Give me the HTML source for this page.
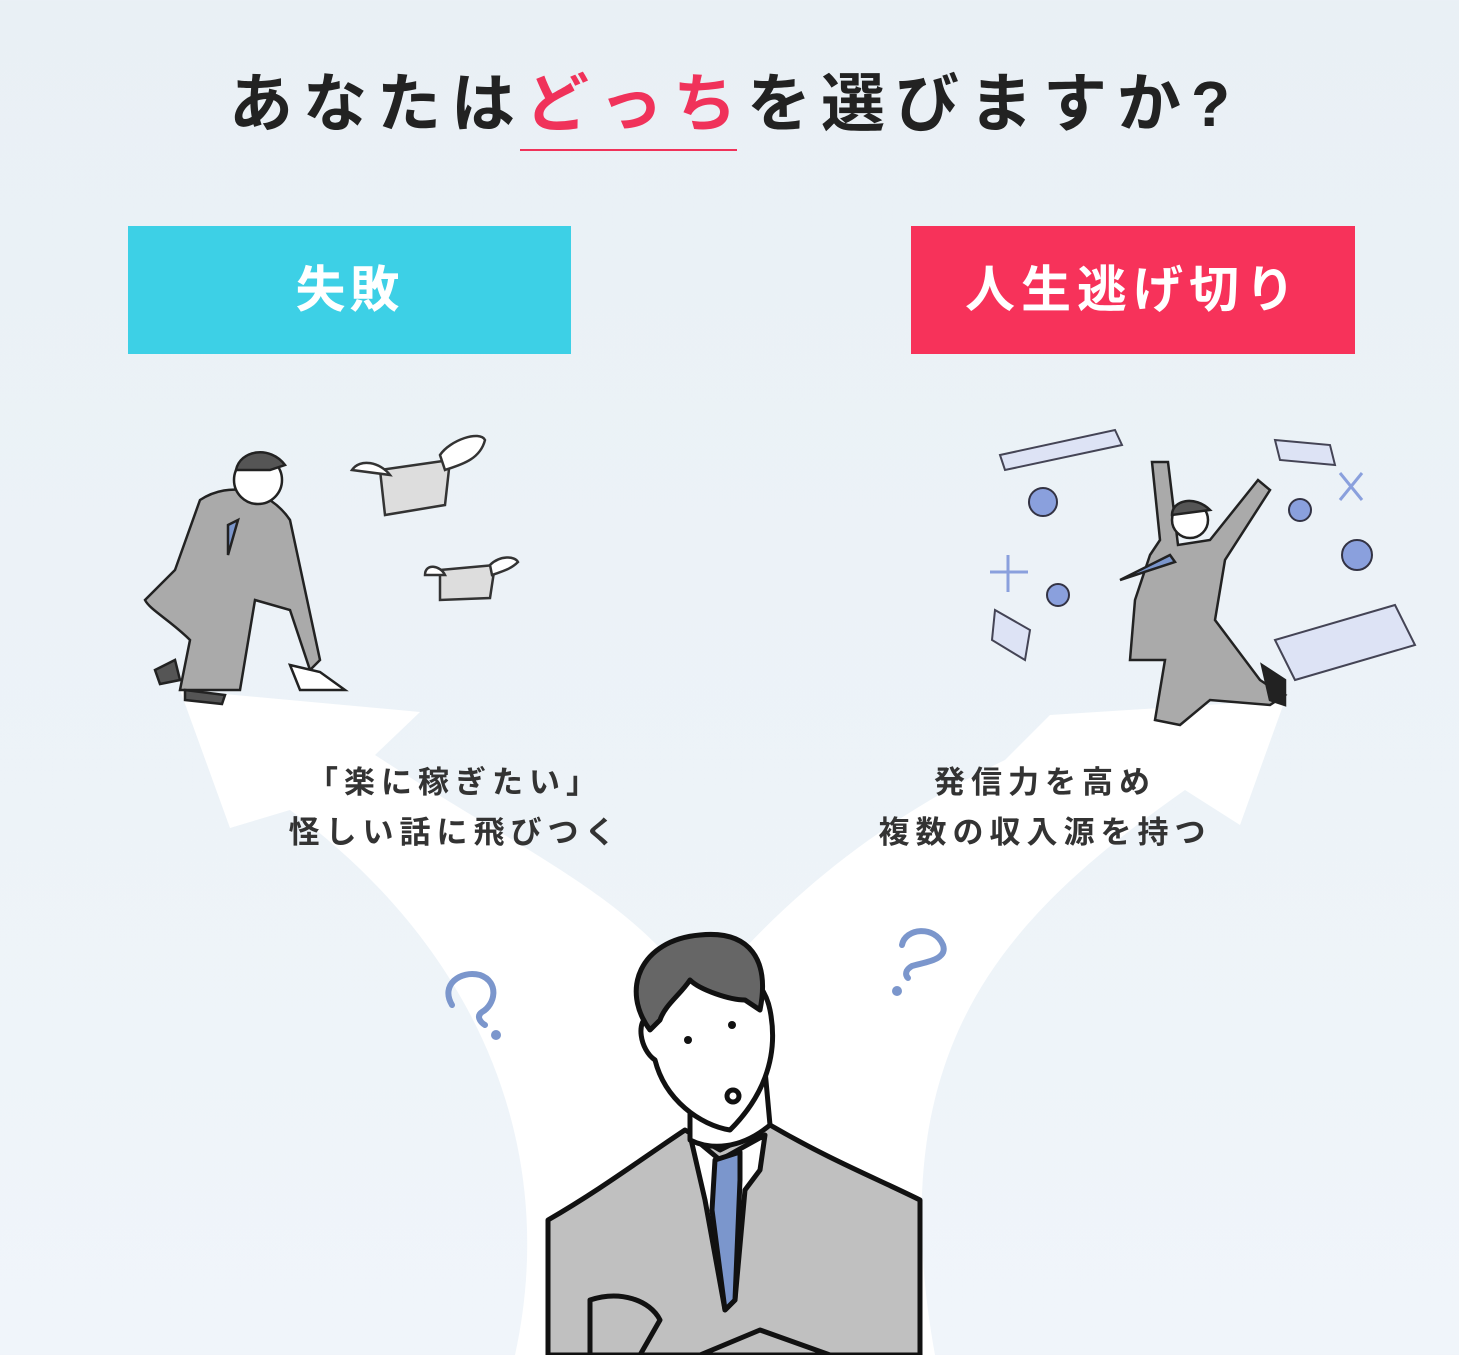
<!DOCTYPE html>
<html><head><meta charset="utf-8"><style>
html,body{margin:0;padding:0}
body{width:1459px;height:1355px;position:relative;overflow:hidden;background:linear-gradient(#e9f0f5,#edf3f8 60%,#f0f5fa);font-family:"Liberation Sans","Noto Sans CJK JP",sans-serif;}
.t{position:absolute;white-space:nowrap}
</style></head><body>
<svg width="1459" height="1355" style="position:absolute;left:0;top:0">
<path d="M180,690 L420,712 L375,755 C520,850 640,900 700,1000 L700,1355 L515,1355 C560,1150 480,950 290,810 L230,828 Z" fill="#fff"/>
<path d="M1285,700 L1240,825 L1185,790 C1000,920 880,1050 935,1355 L700,1355 L700,1000 C780,900 880,820 1005,760 L1050,715 Z" fill="#fff"/>
<path d="M520,150 L737,150" stroke="#f0325a" stroke-width="2"/>
<path d="M452,1005 C440,985 460,970 480,975 C500,982 495,1005 482,1012 C476,1016 480,1022 485,1025" fill="none" stroke="#7b96cc" stroke-width="6" stroke-linecap="round"/>
<circle cx="496" cy="1035" r="5" fill="#7b96cc"/>
<path d="M902,945 C905,928 935,925 943,945 C948,960 925,962 912,966 C905,970 905,975 908,978" fill="none" stroke="#7b96cc" stroke-width="6" stroke-linecap="round"/>
<circle cx="897" cy="991" r="5" fill="#7b96cc"/>
<g stroke="#111" stroke-width="5" stroke-linejoin="round">
<path d="M548,1220 C600,1190 640,1160 685,1130 L720,1150 L770,1125 C830,1160 880,1180 920,1200 L920,1355 L548,1355 Z" fill="#c0c0c0"/>
<path d="M690,1135 L720,1160 L765,1135 L760,1170 L745,1190 L735,1300 L725,1310 L705,1200 Z" fill="#fff"/>
<path d="M715,1160 L740,1152 L740,1180 L735,1300 L725,1310 L712,1210 Z" fill="#7b96cc"/>
<path d="M690,1080 L690,1140 C710,1150 740,1150 770,1125 L765,1070 Z" fill="#fff"/>
<path d="M660,960 C700,950 760,960 770,1010 C780,1060 760,1100 730,1130 C700,1125 665,1100 655,1060 C640,1050 635,1020 650,1015 Z" fill="#fff"/>
<path d="M650,1030 C620,990 640,940 700,935 C750,930 770,960 760,1010 L745,1000 C730,1000 700,990 690,980 C680,995 665,1005 660,1020 Z" fill="#666"/>
<circle cx="733" cy="1096" r="6" fill="#fff"/>
<path d="M590,1300 C620,1290 650,1300 660,1320 L640,1355 L590,1355 Z" fill="#c0c0c0"/>
<path d="M700,1355 L760,1330 L830,1355 Z" fill="#c0c0c0"/>
</g>
<circle cx="688" cy="1040" r="4" fill="#111"/><circle cx="732" cy="1025" r="4" fill="#111"/>
<g stroke="#222" stroke-width="2.5">
<path d="M200,500 C230,480 270,490 290,520 L320,660 L310,670 L290,610 L255,600 L240,690 L180,690 L190,640 C170,620 150,610 145,600 L175,570 Z" fill="#aaa"/>
<circle cx="258" cy="480" r="24" fill="#fff"/>
<path d="M236,470 C240,450 270,445 285,465 L270,470 Z" fill="#555"/>
<path d="M155,670 L175,660 L180,680 L160,684 Z M185,690 L225,695 L222,704 L185,700 Z" fill="#555"/>
<path d="M290,665 L320,672 L345,690 L300,690 Z" fill="#fff"/>
<path d="M228,525 L238,520 L228,555 Z" fill="#7b96cc"/>
</g>
<g stroke="#333" stroke-width="2.5" fill="#ddd">
<path d="M380,470 L450,460 L445,505 L385,515 Z"/><path d="M352,470 C360,458 380,462 390,475 Z M440,455 C450,440 480,430 485,440 C480,460 460,465 445,470 Z" fill="#fff"/>
<path d="M440,570 L495,565 L490,598 L440,600 Z"/><path d="M425,575 C425,563 440,565 445,575 Z M490,565 C500,555 515,556 518,562 C510,570 500,572 492,575 Z" fill="#fff"/>
</g>
<g stroke="#222" stroke-width="2.5">
<path d="M1150,555 L1160,540 L1152,462 L1168,462 L1178,545 L1210,540 L1258,480 L1270,490 L1225,560 L1215,620 L1260,680 L1275,690 L1285,695 L1270,705 L1210,700 L1180,725 L1155,720 L1165,660 L1130,660 L1135,600 Z" fill="#aaa"/>
<circle cx="1190" cy="520" r="18" fill="#fff"/>
<path d="M1172,515 C1172,500 1195,495 1210,510 Z" fill="#555"/>
<path d="M1120,580 L1170,555 L1175,562 Z" fill="#7b96cc"/>
<path d="M1262,665 L1285,680 L1285,705 L1270,700 Z" fill="#222"/>
</g>
<g stroke="#445" stroke-width="2" fill="#dde3f5">
<path d="M1000,455 L1115,430 L1122,445 L1005,470 Z"/>
<path d="M1275,640 L1395,605 L1415,645 L1295,680 Z"/>
<path d="M1275,440 L1330,445 L1335,465 L1280,460 Z"/>
<path d="M995,610 L1030,630 L1025,660 L992,640 Z"/>
</g>
<g stroke="#334" stroke-width="2" fill="#8aa0dd">
<circle cx="1043" cy="502" r="14"/><circle cx="1058" cy="595" r="11"/><circle cx="1300" cy="510" r="11"/><circle cx="1357" cy="555" r="15"/>
</g>
<g stroke="#8aa0dd" stroke-width="3"><path d="M1340,473 L1362,500 M1362,473 L1340,500 M1008,555 L1008,592 M990,572 L1028,572"/></g>
</svg>
<div class="t" style="left:5px;width:1459px;top:62px;text-align:center;font-size:64px;font-weight:bold;color:#222;letter-spacing:10px;line-height:84px">あなたは<span style="color:#f0325a">どっち</span>を選びますか?</div>
<div class="t" style="left:128px;top:226px;width:443px;height:128px;background:#3dd0e6;color:#fff;font-size:50px;font-weight:bold;text-align:center;line-height:128px;letter-spacing:4px">失敗</div>
<div class="t" style="left:911px;top:226px;width:444px;height:128px;background:#f7325a;color:#fff;font-size:50px;font-weight:bold;text-align:center;line-height:128px;letter-spacing:6px">人生逃げ切り</div>
<div class="t" style="left:255px;width:400px;top:758px;text-align:center;font-size:31px;font-weight:bold;color:#333;line-height:50px;letter-spacing:6px">「楽に稼ぎたい」<br>怪しい話に飛びつく</div>
<div class="t" style="left:845px;width:400px;top:758px;text-align:center;font-size:31px;font-weight:bold;color:#333;line-height:50px;letter-spacing:6px">発信力を高め<br>複数の収入源を持つ</div>
</body></html>
